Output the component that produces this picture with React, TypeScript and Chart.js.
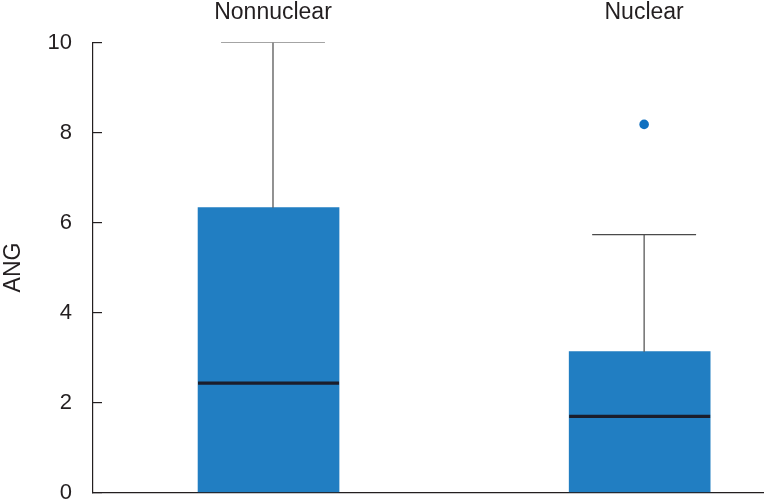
import React, { useEffect, useRef } from 'react';
import { Chart, registerables } from 'chart.js';

Chart.register(...registerables);

// ---- data ----
const categories = ['Nonnuclear', 'Nuclear'];
const q1Values = [0, 0];
const medianValues = [2.43, 1.69];
const q3Values = [6.33, 3.13];
const whiskerMaxValues = [10, 5.73];
const outlierGroups = [1];
const outlierValues = [8.18];
const yTickValues = [0, 2, 4, 6, 8, 10];
const yTitle = 'ANG';

// ---- styles / layout ----
const X_MIN = 0.515;
const X_MAX = 2.323;
const BOX_HALF = 0.19;
const BOX_SHIFT = -0.012;
const CAP_HALF = 0.14;
const BOX_COLOR = '#217ec2';
const OUTLIER_COLOR = '#1070c0';
const MEDIAN_COLOR = '#1b1d2b';
const WHISKER_COLOR = '#4a4a4a';
const TEXT_COLOR = '#231f20';
const FONT_FAMILY = '"Liberation Sans", Arial, Helvetica, sans-serif';

export default function App() {
  const ref = useRef<HTMLCanvasElement>(null);

  useEffect(() => {
    const canvas = ref.current;
    if (!canvas) return;
    const xs = categories.map((_, i) => i + 1);

    const boxData = categories.map((_, i) => ({ x: xs[i] + BOX_SHIFT, y: [q1Values[i], q3Values[i]] }));
    const medianData: any[] = [];
    const whiskerData: any[] = [];
    const capData: any[] = [];
    categories.forEach((_, i) => {
      const c = xs[i];
      medianData.push({ x: c + BOX_SHIFT - BOX_HALF, y: medianValues[i] });
      medianData.push({ x: c + BOX_SHIFT + BOX_HALF, y: medianValues[i] });
      medianData.push({ x: c + 0.5, y: null });
      whiskerData.push({ x: c, y: q3Values[i] });
      whiskerData.push({ x: c, y: whiskerMaxValues[i] });
      whiskerData.push({ x: c + 0.5, y: null });
      capData.push({ x: c - CAP_HALF, y: whiskerMaxValues[i] });
      capData.push({ x: c + CAP_HALF, y: whiskerMaxValues[i] });
      capData.push({ x: c + 0.5, y: null });
    });
    const outlierData = outlierGroups.map((g, k) => ({ x: xs[g], y: outlierValues[k] }));

    const lineBase = {
      type: 'line' as const,
      pointRadius: 0,
      pointHoverRadius: 0,
      spanGaps: false,
      fill: false,
      tension: 0,
    };

    const chart = new Chart(canvas, {
      type: 'bar',
      data: {
        datasets: [
          {
            type: 'bar',
            data: boxData as any,
            backgroundColor: BOX_COLOR,
            borderWidth: 0,
            barThickness: 141,
            order: 4,
          } as any,
          { ...lineBase, data: whiskerData, borderColor: WHISKER_COLOR, borderWidth: 1.2, order: 3 } as any,
          { ...lineBase, data: capData, borderColor: WHISKER_COLOR, borderWidth: 1.2, order: 2 } as any,
          { ...lineBase, data: medianData, borderColor: MEDIAN_COLOR, borderWidth: 3.3, order: 1 } as any,
          {
            type: 'scatter',
            data: outlierData,
            backgroundColor: OUTLIER_COLOR,
            borderWidth: 0,
            pointRadius: 4.8,
            order: 0,
          } as any,
        ],
      },
      options: {
        animation: false,
        responsive: false,
        devicePixelRatio: 1,
        layout: { autoPadding: false, padding: { top: 0, left: 0, right: 0, bottom: 11.5 } },
        plugins: { legend: { display: false }, tooltip: { enabled: false }, title: { display: false } },
        scales: {
          x: {
            type: 'linear',
            position: 'bottom',
            offset: false,
            min: X_MIN,
            max: X_MAX,
            ticks: { display: false },
            grid: { display: false, drawTicks: false, offset: false },
            border: { display: true, color: TEXT_COLOR, width: 1.2 },
            afterFit: (s: any) => { s.height = 0; s.paddingLeft = 0; s.paddingRight = 0; },
          },
          xTop: {
            type: 'linear',
            position: 'top',
            offset: false,
            min: X_MIN,
            max: X_MAX,
            afterBuildTicks: (s: any) => { s.ticks = xs.map((v) => ({ value: v })); },
            ticks: {
              callback: (v: any) => categories[Math.round(Number(v)) - 1] ?? '',
              font: { family: FONT_FAMILY, size: 23 },
              color: TEXT_COLOR,
              padding: 16,
              maxRotation: 0,
              autoSkip: false,
            },
            grid: { display: false, drawTicks: false, offset: false },
            border: { display: false },
            afterFit: (s: any) => { s.height = 42.5; s.paddingLeft = 0; s.paddingRight = 0; },
          },
          y: {
            type: 'linear',
            min: 0,
            max: 10,
            afterBuildTicks: (s: any) => { s.ticks = yTickValues.map((v) => ({ value: v })); },
            ticks: {
              font: { family: FONT_FAMILY, size: 22 },
              color: TEXT_COLOR,
              padding: 30,
            },
            grid: { display: true, drawOnChartArea: false, drawTicks: true, tickLength: -9, color: TEXT_COLOR, lineWidth: 1.2 },
            border: { display: true, color: TEXT_COLOR, width: 1.2 },
            title: {
              display: true,
              text: yTitle,
              font: { family: FONT_FAMILY, size: 23 },
              color: TEXT_COLOR,
              padding: 0,
            },
            afterFit: (s: any) => { s.width = 93; s.paddingTop = 0; s.paddingBottom = 0; },
          },
        },
      } as any,
    });

    return () => chart.destroy();
  }, []);

  return (
    <div style={{ position: 'fixed', left: 0, top: 0, width: 764, height: 504, background: '#fff' }}>
      <canvas ref={ref} width={764} height={504} style={{ display: 'block' }} />
    </div>
  );
}
